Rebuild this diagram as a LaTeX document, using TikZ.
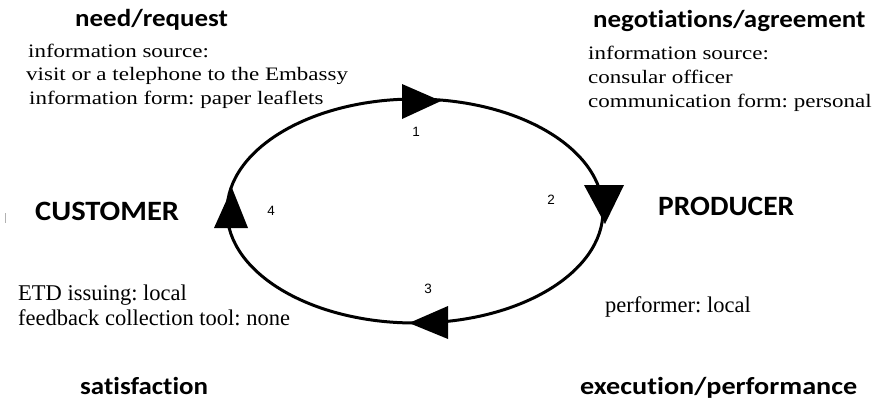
\documentclass[tikz,border=0pt]{standalone}
\usepackage{fontspec}
\usepackage{graphicx}
\setmainfont{Liberation Serif}
\newfontfamily\headfont[Ligatures=NoCommon]{Carlito}
\newfontfamily\numfont{Liberation Sans}
\frenchspacing
% widened serif lines for the upper detail blocks
\newcommand{\wideline}[1]{\scalebox{1.21}[1]{#1}}
\newcommand{\widehead}[1]{\scalebox{1.1}[1]{#1}}
\begin{document}
\begin{tikzpicture}[x=1pt,y=-1pt,
  heading/.style={font=\headfont\bfseries\fontsize{24.5}{28}\selectfont, anchor=base west, inner sep=0pt},
  role/.style={font=\headfont\bfseries\fontsize{28}{32}\selectfont, anchor=base west, inner sep=0pt},
  info/.style={font=\fontsize{19}{23}\selectfont, anchor=base west, inner sep=0pt},
  lowinfo/.style={font=\fontsize{22.5}{26}\selectfont, anchor=base west, inner sep=0pt},
  stepnum/.style={font=\numfont\fontsize{13.5}{15}\selectfont, inner sep=0pt},
  cycle/.style={line width=3pt},
  tip/.style={fill=black}]
\useasboundingbox (0,0) rectangle (877,405);

% the service cycle
\draw[cycle] (415,211) ellipse [x radius=188, y radius=112];

% direction marks on the cycle
\fill[tip] (402,84) -- (441,101) -- (402,119) -- cycle;
\fill[tip] (584,185) -- (605,224) -- (624,185) -- cycle;
\fill[tip] (448,306) -- (409,323) -- (448,339) -- cycle;
\fill[tip] (214,228) -- (232,188) -- (248,228) -- cycle;

% stage numbers
\node[stepnum] (n1) at (416,132) {1};
\node[stepnum] (n2) at (551,200) {2};
\node[stepnum] (n3) at (428,289) {3};
\node[stepnum] (n4) at (271,211) {4};

% parties
\draw[gray!60, line width=0.8pt] (5,213) -- (5,223);
\node[role] (cust) at (35,220) {\scalebox{1.09}[1]{CUSTOMER}};
\node[role] (prod) at (658,215) {\scalebox{1.05}[1]{PRODUCER}};

% stage headings
\node[heading] (need) at (75,26) {\widehead{need/request}};
\node[heading] (nego) at (593,27) {\widehead{negotiations/agreement}};
\node[heading] (sat) at (80,394) {\widehead{satisfaction}};
\node[heading] (exec) at (580,394) {\scalebox{1.15}[1]{execution/performance}};

% stage details
\node[info] (i1a) at (28,57) {\wideline{information source:}};
\node[info] (i1b) at (26,80) {\wideline{visit or a telephone to the Embassy}};
\node[info] (i1c) at (29,104) {\wideline{information form: paper leaflets}};
\node[info] (i2a) at (588,59) {\wideline{information source:}};
\node[info] (i2b) at (588,83) {\wideline{consular officer}};
\node[info] (i2c) at (588,107) {\wideline{communication form: personal}};
\node[lowinfo] (i3) at (605,312) {performer: local};
\node[lowinfo] (i4a) at (18,300) {ETD issuing: local};
\node[lowinfo] (i4b) at (18,325) {feedback collection tool: none};
\end{tikzpicture}
\end{document}
